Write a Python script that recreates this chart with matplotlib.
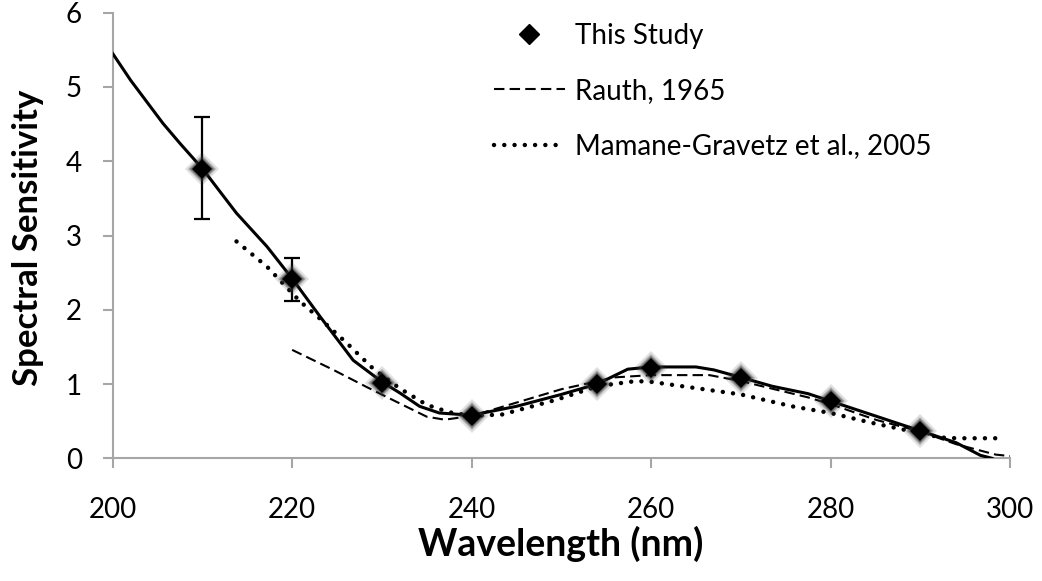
import matplotlib
matplotlib.use("Agg")
import matplotlib.pyplot as plt

# ---- data ----
study_x = [210, 220, 230, 240, 254, 260, 270, 280, 290]
study_y = [3.90, 2.42, 1.02, 0.57, 1.00, 1.22, 1.08, 0.77, 0.37]
study_err_low = [0.68, 0.30, 0, 0, 0, 0, 0, 0, 0]
study_err_high = [0.70, 0.28, 0, 0, 0, 0, 0, 0, 0]

fit_x = [200, 202, 205.6, 207.5, 210, 213.8, 217.2, 220, 223.1, 226.8, 230, 232,
         234.2, 236.4, 240, 245, 250, 254, 257.4, 260, 265, 267, 270, 273.5,
         277.5, 280, 285, 290, 294, 296.7, 298]
fit_y = [5.45, 5.09, 4.51, 4.24, 3.90, 3.30, 2.85, 2.42, 1.91, 1.32, 1.03, 0.88,
         0.70, 0.61, 0.58, 0.70, 0.86, 1.00, 1.20, 1.23, 1.23, 1.19, 1.09, 0.97,
         0.87, 0.77, 0.57, 0.37, 0.21, 0.04, 0.0]

rauth_x = [220, 224.6, 228.3, 231.3, 235, 237, 240, 245, 250, 256, 260, 266.5,
           270, 277.5, 280, 285, 290, 294, 298.4, 300]
rauth_y = [1.46, 1.19, 0.96, 0.78, 0.56, 0.52, 0.57, 0.75, 0.93, 1.09, 1.12, 1.12,
           1.04, 0.82, 0.73, 0.52, 0.36, 0.19, 0.05, 0.03]

mamane_x = [213.8, 217.2, 220.9, 223.1, 226.1, 229, 232, 235, 237.5, 240, 243.4,
            249.5, 254, 258.3, 260, 263.5, 270, 275.7, 280, 284.5, 288, 290,
            292.3, 294, 299]
mamane_y = [2.92, 2.58, 2.11, 1.88, 1.55, 1.21, 0.94, 0.72, 0.62, 0.57, 0.59,
            0.79, 0.97, 1.04, 1.03, 0.97, 0.86, 0.70, 0.61, 0.48, 0.39, 0.34,
            0.28, 0.27, 0.27]

x_ticks = [200, 220, 240, 260, 280, 300]
y_ticks = [0, 1, 2, 3, 4, 5, 6]

labels = ["This Study", "Rauth, 1965", "Mamane-Gravetz et al., 2005"]

plt.rcParams['font.family'] = ['Lato', 'DejaVu Sans']

fig = plt.figure(figsize=(10.42, 5.81), dpi=100)
ax = fig.add_axes([112.7/1042, 1-458.3/581, (1010-112.7)/1042, (458.3-12.7)/581])

ax.plot(fit_x, fit_y, color='black', lw=2.2, label='_nolegend_', zorder=3)
ax.plot(rauth_x, rauth_y, color='black', lw=1.5, linestyle=(0, (5, 2.5)),
        label=labels[1], zorder=3)
ax.plot(mamane_x, mamane_y, color='black', lw=3.2, linestyle=(0, (0.01, 2.3)),
        dash_capstyle='round', label=labels[2], zorder=3)

ax.errorbar(study_x, study_y, yerr=[study_err_low, study_err_high], fmt='none',
            ecolor='black', elinewidth=1.6, capsize=5.5, capthick=1.6, zorder=4)
# soft (blurred) diamond markers
for ms, a in [(24, 0.15), (20, 0.3), (17, 0.5)]:
    ax.plot(study_x, study_y, linestyle='none', marker='D', markersize=ms*0.72,
            color='#333333', alpha=a, markeredgewidth=0, zorder=5)
ax.plot(study_x, study_y, linestyle='none', marker='D', markersize=10,
        color='black', markeredgewidth=0, zorder=6)

# legend handle for study
h_study, = ax.plot([], [], linestyle='none', marker='D', markersize=10, color='black')
handles, lbls = ax.get_legend_handles_labels()
leg = ax.legend([h_study] + handles, [labels[0]] + lbls, loc='upper left',
                bbox_to_anchor=(494/1042, 1-23/581), bbox_transform=fig.transFigure,
                frameon=False, fontsize=20, handlelength=2.55, handletextpad=0.35,
                labelspacing=1.05, borderpad=0, borderaxespad=0)

ax.set_xlim(200, 300)
ax.set_ylim(0, 6)
ax.set_xticks(x_ticks)
ax.set_yticks(y_ticks)
ax.tick_params(axis='both', labelsize=20, colors='black', direction='out',
               length=7.2, width=1.5, color='#A6A6A6')
ax.tick_params(axis='x', pad=21)
ax.tick_params(axis='y', pad=15)
for s in ['top', 'right']:
    ax.spines[s].set_visible(False)
for s in ['left', 'bottom']:
    ax.spines[s].set_color('#A6A6A6')
    ax.spines[s].set_linewidth(1.5)

fig.text(28/1042, 1-238/581, 'Spectral Sensitivity', rotation=90, ha='center',
         va='center', fontsize=25, fontweight='bold')
fig.text(561/1042, 1-544/581, 'Wavelength (nm)', ha='center', va='center',
         fontsize=27, fontweight='bold')

fig.savefig('out.png', dpi=100)
